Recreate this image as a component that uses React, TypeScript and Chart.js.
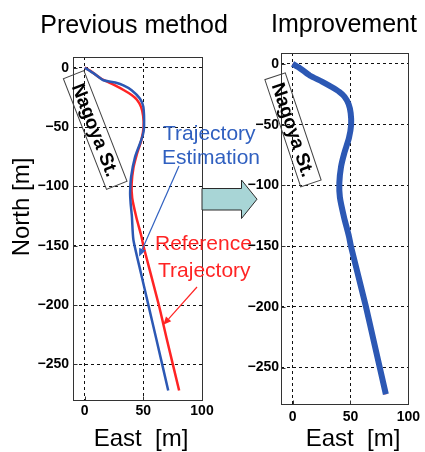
import React, { useEffect, useRef } from "react";
import { Chart, registerables } from "chart.js";

Chart.register(...registerables);

// ---- data ----
const eastTicks = [0, 50, 100];
const northTicks = [0, -50, -100, -150, -200, -250];

// reference trajectory (red)
const refEast = [0, 6, 14.5, 25, 33.5, 40, 44.5, 48, 49.8, 50.2, 48.3, 44.3, 41.5, 40, 40.5, 44, 48.3, 50, 63.2, 69.8, 80.5];
const refNorth = [0, -3.5, -9.5, -14.5, -19, -23, -27, -33, -40.5, -50, -61, -73.4, -84.5, -98, -110, -126, -142, -150, -200, -228, -272];

// previous method estimate (blue, left)
const estEast = [0, 8, 16, 26, 33, 40, 47, 50, 50.6, 49.5, 47.2, 43, 39.6, 38.7, 39.2, 40.2, 41.5, 47.8, 54.4, 61, 71.2];
const estNorth = [0, -5, -10.6, -12.5, -15, -19, -26, -33, -49.7, -57, -63.7, -75, -91.6, -105.5, -115, -125, -145, -172.5, -200.5, -228.4, -272];

// improved estimate (blue, right)
const impEast = [0, 6.3, 14.8, 25.4, 33.8, 40.4, 44.9, 48.4, 50.2, 50.6, 48.7, 44.7, 41.9, 40.4, 40.9, 44.4, 48.7, 50.4, 63.4, 70.1, 80.6];
const impNorth = [0, -3.5, -9.5, -14.5, -19, -23, -27, -33, -40.5, -50, -61, -73.4, -84.5, -98, -110, -126, -142, -150, -200, -228, -272];

const titles = ["Previous method", "Improvement"];
const xLabel = "East  [m]";
const yLabel = "North [m]";
const stationLabel = "Nagoya St.";
const estLabel = ["Trajectory", "Estimation"];
const refLabel = ["Reference", "Trajectory"];

// leader arrow targets (data coordinates: east, north)
const estArrowTip = [46.4, -159];
const refArrowTip = [67, -216.7];

const FAMILY = "'Liberation Sans', Arial, sans-serif";
const font = (size: number, bold = false) => `${bold ? "bold " : ""}${size}px ${FAMILY}`;
const RED = "#ff2424";
const BLUE = "#2c58b4";
const TEXT_BLUE = "#3060c0";

const pts = (xs: number[], ys: number[]) => xs.map((x, i) => ({ x, y: ys[i] }));
const fmt = (v: any) => (Number(v) < 0 ? "\u2212" + Math.abs(Number(v)) : String(v));

function makeScales(yWidth: number, xHeight: number, yPad: number, xPad: number) {
  const tickFont = { family: FAMILY, size: 14, weight: "bold" as const };
  return {
    x: {
      type: "linear" as const,
      min: -10,
      max: 100,
      afterBuildTicks: (s: any) => {
        s.ticks = eastTicks.map((v) => ({ value: v }));
      },
      afterFit: (s: any) => {
        s.height = xHeight;
      },
      grid: { color: "#111", lineWidth: 1, drawTicks: false },
      border: { display: false, dash: [3, 3] },
      ticks: { padding: xPad, font: tickFont, color: "#000", autoSkip: false, maxRotation: 0, callback: fmt },
    },
    y: {
      type: "linear" as const,
      min: -280,
      max: 9,
      afterBuildTicks: (s: any) => {
        s.ticks = northTicks.map((v) => ({ value: v }));
      },
      afterFit: (s: any) => {
        s.width = yWidth;
      },
      grid: { color: "#111", lineWidth: 1, drawTicks: false },
      border: { display: false, dash: [3, 3] },
      ticks: { padding: yPad, font: tickFont, color: "#000", autoSkip: false, callback: fmt },
    },
  };
}

function drawFrame(chart: any) {
  const { ctx, chartArea: a, scales } = chart;
  ctx.save();
  ctx.strokeStyle = "#333";
  ctx.lineWidth = 1;
  const L = Math.round(a.left) + 0.5;
  const T = Math.round(a.top) + 0.5;
  const R = Math.round(a.right) + 0.5;
  const B = Math.round(a.bottom) + 0.5;
  ctx.strokeRect(L, T, R - L, B - T);
  ctx.beginPath();
  for (const t of scales.x.ticks) {
    const px = Math.round(scales.x.getPixelForValue(t.value)) + 0.5;
    ctx.moveTo(px, B);
    ctx.lineTo(px, B - 4);
  }
  for (const t of scales.y.ticks) {
    const py = Math.round(scales.y.getPixelForValue(t.value)) + 0.5;
    ctx.moveTo(L, py);
    ctx.lineTo(L + 4, py);
  }
  ctx.stroke();
  ctx.restore();
}

function drawStation(ctx: CanvasRenderingContext2D, cx: number, cy: number, deg: number, len: number, wid: number) {
  ctx.save();
  ctx.translate(cx, cy);
  ctx.rotate((deg * Math.PI) / 180);
  ctx.strokeStyle = "#444";
  ctx.lineWidth = 1;
  ctx.strokeRect(-len / 2, -wid / 2, len, wid);
  ctx.fillStyle = "#000";
  ctx.font = font(19, true);
  ctx.textAlign = "center";
  ctx.textBaseline = "middle";
  ctx.fillText(stationLabel, 0, 1);
  ctx.restore();
}

function leader(ctx: CanvasRenderingContext2D, x1: number, y1: number, x2: number, y2: number, color: string) {
  ctx.save();
  ctx.strokeStyle = color;
  ctx.fillStyle = color;
  ctx.lineWidth = 1.2;
  const ang = Math.atan2(y2 - y1, x2 - x1);
  const hl = 8;
  const hw = 3.5;
  const bx = x2 - hl * Math.cos(ang);
  const by = y2 - hl * Math.sin(ang);
  ctx.beginPath();
  ctx.moveTo(x1, y1);
  ctx.lineTo(bx, by);
  ctx.stroke();
  ctx.beginPath();
  ctx.moveTo(x2, y2);
  ctx.lineTo(bx - hw * Math.sin(ang), by + hw * Math.cos(ang));
  ctx.lineTo(bx + hw * Math.sin(ang), by - hw * Math.cos(ang));
  ctx.closePath();
  ctx.fill();
  ctx.restore();
}

const leftPlugin = {
  id: "leftDecor",
  afterDraw(chart: any) {
    drawFrame(chart);
    const { ctx, scales } = chart;
    ctx.save();
    ctx.fillStyle = "#000";
    ctx.font = font(25);
    ctx.textAlign = "center";
    ctx.textBaseline = "alphabetic";
    ctx.fillText(titles[0], 134, 33);
    ctx.font = font(24);
    ctx.fillText(xLabel, 141, 446);
    ctx.save();
    ctx.translate(29, 207);
    ctx.rotate(-Math.PI / 2);
    ctx.fillText(yLabel, 0, 0);
    ctx.restore();

    drawStation(ctx, 95.2, 130, 68.7, 118.7, 22);

    // arrow between charts
    ctx.beginPath();
    ctx.moveTo(202, 188.5);
    ctx.lineTo(241.5, 188.5);
    ctx.lineTo(241.5, 180);
    ctx.lineTo(257, 199.2);
    ctx.lineTo(241.5, 218.5);
    ctx.lineTo(241.5, 210);
    ctx.lineTo(202, 210);
    ctx.closePath();
    ctx.fillStyle = "#a8d5d6";
    ctx.fill();
    ctx.strokeStyle = "#2a2a2a";
    ctx.lineWidth = 1;
    ctx.stroke();

    ctx.textAlign = "left";
    ctx.font = font(21);
    ctx.fillStyle = TEXT_BLUE;
    ctx.fillText(estLabel[0], 163, 140);
    ctx.fillText(estLabel[1], 162, 164);
    ctx.fillStyle = RED;
    ctx.fillText(refLabel[0], 155, 250);
    ctx.fillText(refLabel[1], 158, 277);

    const xs = scales.x;
    const ys = scales.y;
    leader(ctx, 179, 166, xs.getPixelForValue(estArrowTip[0]), ys.getPixelForValue(estArrowTip[1]), TEXT_BLUE);
    leader(ctx, 197, 287, xs.getPixelForValue(refArrowTip[0]), ys.getPixelForValue(refArrowTip[1]), RED);
    ctx.restore();
  },
};

const rightPlugin = {
  id: "rightDecor",
  afterDraw(chart: any) {
    drawFrame(chart);
    const { ctx } = chart;
    ctx.save();
    ctx.fillStyle = "#000";
    ctx.font = font(25);
    ctx.textAlign = "center";
    ctx.textBaseline = "alphabetic";
    ctx.fillText(titles[1], 344, 32);
    ctx.font = font(24);
    ctx.fillText(xLabel, 353, 446);
    drawStation(ctx, 293, 129.8, 71.5, 113, 21.5);
    ctx.restore();
  },
};

export default function App() {
  const leftRef = useRef<HTMLCanvasElement>(null);
  const rightRef = useRef<HTMLCanvasElement>(null);

  useEffect(() => {
    const common = {
      animation: false as const,
      responsive: false,
      devicePixelRatio: 1,
      plugins: { legend: { display: false }, tooltip: { enabled: false }, title: { display: false } },
      elements: { point: { radius: 0 }, line: { tension: 0.2 } },
    };
    // lower "order" is drawn on top: blue above red
    const left = new Chart(leftRef.current!, {
      type: "scatter",
      data: {
        datasets: [
          { data: pts(estEast, estNorth), showLine: true, borderColor: BLUE, borderWidth: 2.5, pointRadius: 0, order: 1 },
          { data: pts(refEast, refNorth), showLine: true, borderColor: RED, borderWidth: 2.5, pointRadius: 0, order: 2 },
        ],
      },
      options: {
        ...common,
        layout: { padding: { left: 0, top: 57, right: 223, bottom: 0 } },
        scales: makeScales(73, 52, 4, 3) as any,
      },
      plugins: [leftPlugin],
    } as any);
    const right = new Chart(rightRef.current!, {
      type: "scatter",
      data: {
        datasets: [
          { data: pts(impEast, impNorth), showLine: true, borderColor: BLUE, borderWidth: 6, pointRadius: 0, order: 1 },
          { data: pts(refEast, refNorth), showLine: true, borderColor: RED, borderWidth: 3, pointRadius: 0, order: 2 },
        ],
      },
      options: {
        ...common,
        layout: { padding: { left: 230, top: 53, right: 12, bottom: 0 } },
        scales: makeScales(51, 48, 2, 5) as any,
      },
      plugins: [rightPlugin],
    } as any);
    return () => {
      left.destroy();
      right.destroy();
    };
  }, []);

  return (
    <div style={{ position: "absolute", left: 0, top: 0, width: 425, height: 452, background: "#fff" }}>
      <canvas ref={leftRef} width={425} height={452} style={{ position: "absolute", left: 0, top: 0, width: 425, height: 452 }} />
      <canvas ref={rightRef} width={425} height={452} style={{ position: "absolute", left: 0, top: 0, width: 425, height: 452 }} />
    </div>
  );
}
